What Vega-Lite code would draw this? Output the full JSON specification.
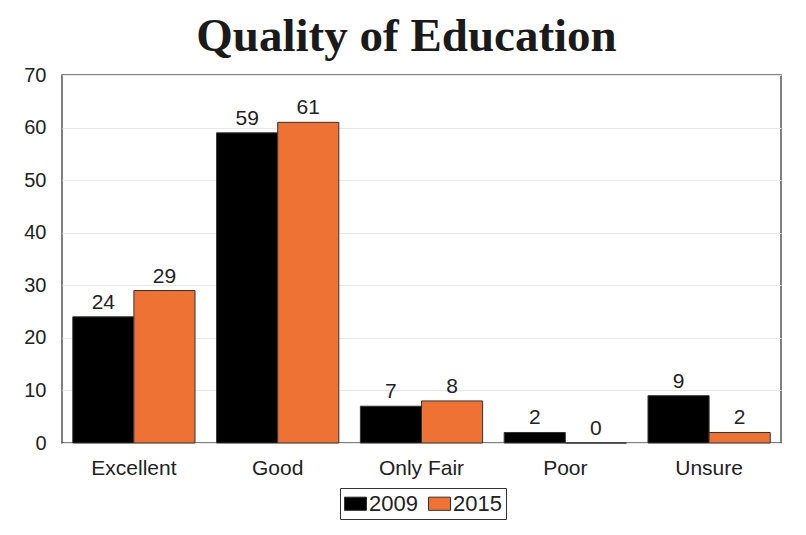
{
  "$schema": "https://vega.github.io/schema/vega-lite/v6.json",
  "autosize": "none",
  "width": 719,
  "height": 368,
  "padding": {"left": 62, "top": 75, "right": 25, "bottom": 92},
  "background": "white",
  "title": {
    "text": "Quality of Education",
    "font": "Liberation Serif",
    "fontWeight": "bold",
    "fontSize": 47,
    "color": "#1a1a1a",
    "anchor": "middle",
    "dx": -15,
    "offset": 4
  },
  "data": {
    "values": [
      {"category": "Excellent", "year": "2009", "value": 24},
      {"category": "Excellent", "year": "2015", "value": 29},
      {"category": "Good", "year": "2009", "value": 59},
      {"category": "Good", "year": "2015", "value": 61},
      {"category": "Only Fair", "year": "2009", "value": 7},
      {"category": "Only Fair", "year": "2015", "value": 8},
      {"category": "Poor", "year": "2009", "value": 2},
      {"category": "Poor", "year": "2015", "value": 0},
      {"category": "Unsure", "year": "2009", "value": 9},
      {"category": "Unsure", "year": "2015", "value": 2}
    ]
  },
  "encoding": {
    "x": {
      "field": "category", "type": "nominal", "sort": null,
      "scale": {"paddingInner": 0.15, "paddingOuter": 0.075},
      "axis": {"title": null, "labelAngle": 0, "labelFont": "Liberation Sans", "labelFontSize": 21, "labelColor": "#222", "ticks": false, "domain": false, "labelPadding": 14}
    },
    "xOffset": {"field": "year", "type": "nominal"},
    "y": {
      "field": "value", "type": "quantitative",
      "scale": {"domain": [0, 70]},
      "axis": {"title": null, "values": [0,10,20,30,40,50,60,70], "labelFont": "Liberation Sans", "labelFontSize": 20, "labelColor": "#222", "domain": false, "ticks": false, "labelPadding": 16, "gridColor": "#e8e8e8", "gridWidth": 1}
    }
  },
  "layer": [
    {
      "mark": {"type": "bar", "stroke": "#333", "strokeWidth": 1},
      "encoding": {
        "color": {
          "field": "year", "type": "nominal",
          "scale": {"domain": ["2009", "2015"], "range": ["#000000", "#EE7233"]},
          "legend": {
            "title": null, "orient": "none", "direction": "horizontal",
            "legendX": 278, "legendY": 413,
            "symbolType": "M-1,-0.6H1V0.6H-1Z", "symbolSize": 484, "symbolStrokeColor": "#333", "symbolStrokeWidth": 1,
            "labelFont": "Liberation Sans", "labelFontSize": 22, "labelColor": "#222",
            "strokeColor": "#333", "padding": 4, "columnPadding": 8, "labelOffset": 2
          }
        }
      }
    },
    {
      "mark": {"type": "text", "dy": -14, "font": "Liberation Sans", "fontSize": 21, "color": "#222"},
      "encoding": {
        "text": {"field": "value", "type": "quantitative"}
      }
    }
  ],
  "config": {
    "view": {"stroke": "#555", "strokeWidth": 1.5}
  }
}
